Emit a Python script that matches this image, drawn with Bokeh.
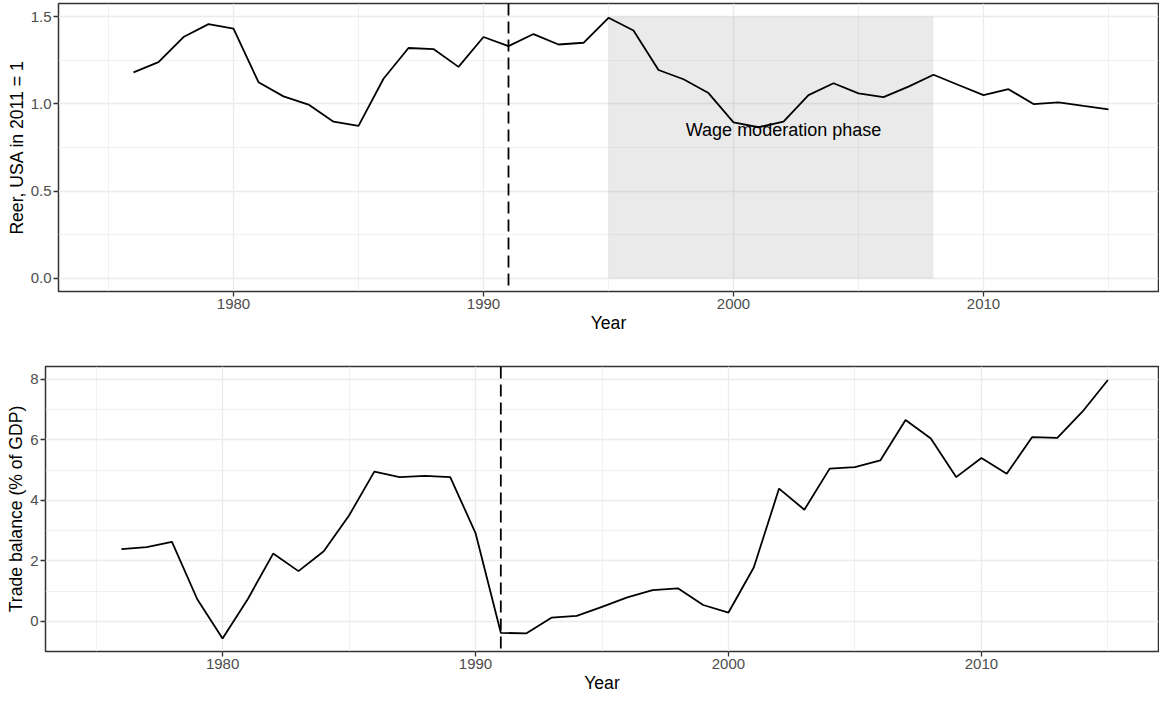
from bokeh.plotting import figure
from bokeh.layouts import column
from bokeh.models import Range1d, FixedTicker, Span, PrintfTickFormatter
from bokeh.core.properties import value
from bokeh.embed import file_html
from bokeh.resources import INLINE

# ---------------- data ----------------
years = [1976, 1977, 1978, 1979, 1980, 1981, 1982, 1983, 1984, 1985,
         1986, 1987, 1988, 1989, 1990, 1991, 1992, 1993, 1994, 1995,
         1996, 1997, 1998, 1999, 2000, 2001, 2002, 2003, 2004, 2005,
         2006, 2007, 2008, 2009, 2010, 2011, 2012, 2013, 2014, 2015]

reer = [1.18, 1.239, 1.383, 1.457, 1.431, 1.124, 1.043, 0.996, 0.898, 0.874,
        1.144, 1.320, 1.314, 1.212, 1.383, 1.331, 1.400, 1.340, 1.350, 1.493,
        1.420, 1.194, 1.141, 1.062, 0.894, 0.866, 0.898, 1.050, 1.118, 1.060,
        1.039, 1.099, 1.167, 1.108, 1.050, 1.084, 0.999, 1.009, 0.988, 0.968]

trade_balance = [2.39, 2.455, 2.63, 0.73, -0.57, 0.74, 2.24, 1.66, 2.32, 3.50,
                 4.95, 4.77, 4.81, 4.77, 2.92, -0.38, -0.40, 0.12, 0.18, 0.48,
                 0.79, 1.03, 1.09, 0.54, 0.29, 1.78, 4.39, 3.69, 5.05, 5.10,
                 5.32, 6.66, 6.05, 4.77, 5.40, 4.88, 6.09, 6.07, 6.94, 7.98]

x_ticks = [1980, 1990, 2000, 2010]
x_minor_ticks = [1975, 1985, 1995, 2005, 2015]
reer_ticks = [0.0, 0.5, 1.0, 1.5]
reer_minor_ticks = [0.25, 0.75, 1.25]
tb_ticks = [0, 2, 4, 6, 8]
tb_minor_ticks = [1, 3, 5, 7]

reunification_year = 1991
phase_start = [1995]
phase_end = [2008]
phase_bottom = [0.0]
phase_top = [1.5]
phase_label = ["Wage moderation phase"]
phase_label_x = [2002]
phase_label_y = [0.85]

x_title = "Year"
reer_title = "Reer, USA in 2011 = 1"
tb_title = "Trade balance (% of GDP)"

FONT = "Liberation Sans"


def style(p, yticks, yminor):
    p.outline_line_color = "#333333"
    p.outline_line_width = 1.5
    p.background_fill_color = "white"
    p.border_fill_color = "white"
    if "frame_align" in p.properties():
        p.frame_align = False
    p.xaxis.ticker = FixedTicker(ticks=x_ticks, minor_ticks=x_minor_ticks)
    p.yaxis.ticker = FixedTicker(ticks=yticks, minor_ticks=yminor)
    for ax in (p.xaxis[0], p.yaxis[0]):
        ax.axis_line_color = None
        ax.major_tick_line_color = "#333333"
        ax.major_tick_line_width = 1.3
        ax.major_tick_out = 5
        ax.major_tick_in = 0
        ax.minor_tick_line_color = None
        ax.major_label_text_color = "#4D4D4D"
        ax.major_label_text_font = FONT
        ax.major_label_text_font_size = "15px"
        ax.major_label_standoff = 2
        ax.axis_label_text_font = FONT
        ax.axis_label_text_font_size = "17.6px"
        ax.axis_label_text_font_style = "normal"
        ax.axis_label_text_color = "black"
        ax.axis_label_standoff = 1
    for g in (p.xgrid[0], p.ygrid[0]):
        g.grid_line_color = "#EBEBEB"
        g.grid_line_width = 1.3
        g.minor_grid_line_color = "#EBEBEB"
        g.minor_grid_line_width = 0.7


# ---------------- top panel ----------------
p1 = figure(frame_width=1100, frame_height=288, output_backend="svg", toolbar_location=None,
            x_range=Range1d(1973, 2017), y_range=Range1d(-0.075, 1.575),
            min_border_left=58, min_border_right=1, min_border_top=3, min_border_bottom=45)
style(p1, reer_ticks, reer_minor_ticks)
p1.yaxis.formatter = PrintfTickFormatter(format="%.1f")
p1.xaxis.axis_label = x_title
p1.yaxis.axis_label = reer_title

p1.quad(left=phase_start, right=phase_end, bottom=phase_bottom, top=phase_top,
        fill_color="#7F7F7F", fill_alpha=0.16, line_color=None)
p1.line(years, reer, line_color="black", line_width=1.8)
p1.add_layout(Span(location=reunification_year, dimension="height", line_color="black",
                   line_width=1.8, line_dash="12 6"))
p1.text(x=phase_label_x, y=phase_label_y, text=phase_label,
        text_font=value(FONT), text_font_size="18px", text_color="black",
        text_align="center", text_baseline="middle")

# ---------------- bottom panel ----------------
p2 = figure(frame_width=1113, frame_height=285, output_backend="svg", toolbar_location=None,
            x_range=Range1d(1973, 2017), y_range=Range1d(-0.998, 8.428),
            min_border_left=45, min_border_right=1, min_border_top=30, min_border_bottom=45)
style(p2, tb_ticks, tb_minor_ticks)
p2.xaxis.axis_label = x_title
p2.yaxis.axis_label = tb_title

p2.line(years, trade_balance, line_color="black", line_width=1.8)
p2.add_layout(Span(location=reunification_year, dimension="height", line_color="black",
                   line_width=1.8, line_dash="12 6"))

layout = column(p1, p2, spacing=0)

with open("out.html", "w") as f:
    f.write(file_html(layout, INLINE))
